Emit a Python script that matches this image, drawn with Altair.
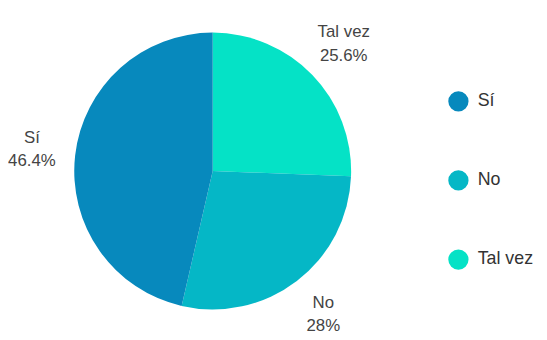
import altair as alt
import pandas as pd

categories = ["Tal vez", "No", "Sí"]
values = [25.6, 28.0, 46.4]
labels = ["Tal vez\n25.6%", "No\n28%", "Sí\n46.4%"]
legend_order = ["Sí", "No", "Tal vez"]
colors = ["#0789bd", "#05b7c6", "#05e2c6"]

df = pd.DataFrame({
    "cat": categories,
    "val": values,
    "label": labels,
    "ord": list(range(len(categories))),
})

color = alt.Color(
    "cat:N",
    scale=alt.Scale(domain=legend_order, range=colors),
    legend=alt.Legend(
        title=None,
        orient="none",
        legendX=437,
        legendY=77,
        symbolType="circle",
        symbolSize=420,
        symbolStrokeWidth=0,
        labelFontSize=18,
        labelFont="Liberation Sans",
        labelColor="#333333",
        labelOffset=9,
        rowPadding=59,
    ),
)

base = alt.Chart(df).encode(
    theta=alt.Theta("val:Q", stack=True),
    order=alt.Order("ord:Q"),
)

arc = base.mark_arc(outerRadius=140).encode(color=color)

text = base.mark_text(
    radius=184,
    dy=-13,
    fontSize=17,
    font="Liberation Sans",
    color="#444444",
    lineBreak="\n",
    lineHeight=24,
).encode(text="label:N")

chart = (
    (arc + text)
    .properties(width=398, height=316, padding={"left": 0, "top": 5, "right": 5, "bottom": 5})
    .configure_view(stroke=None)
)

chart.save("out.html", embed_options={"renderer": "svg", "actions": False})
